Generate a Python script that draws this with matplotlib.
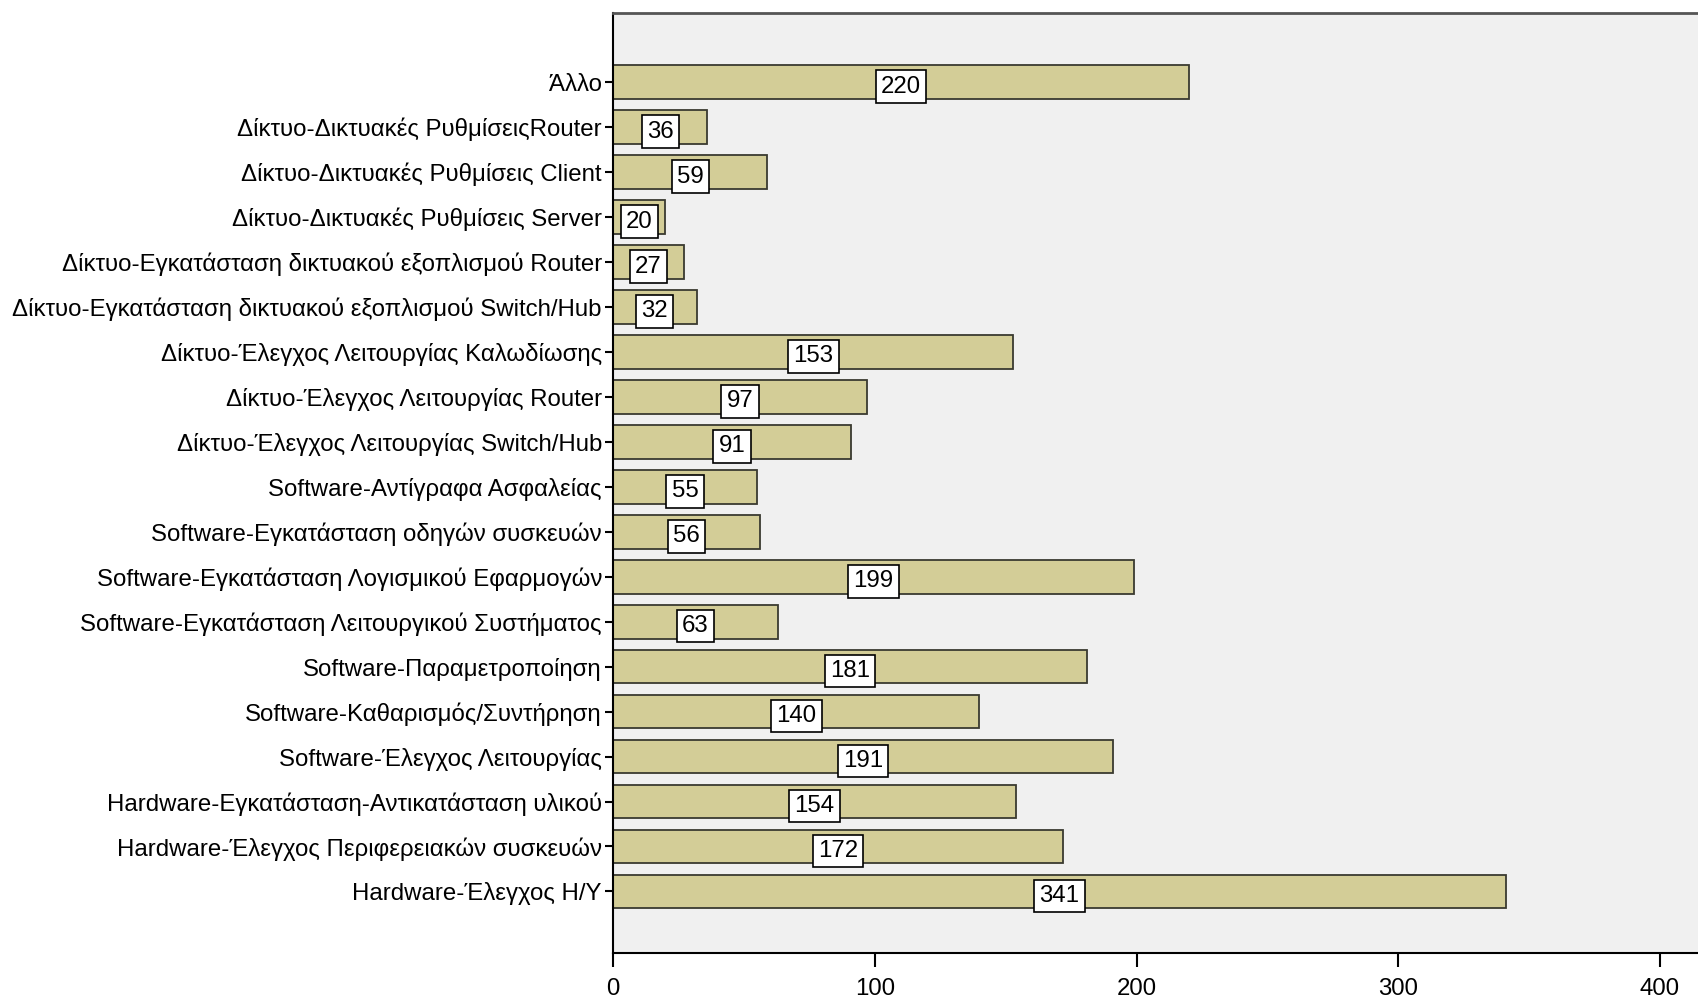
import matplotlib
matplotlib.use("Agg")
import matplotlib.pyplot as plt
import numpy as np

plt.rcParams['font.family'] = ['Liberation Sans', 'DejaVu Sans']

# --- δεδομένα (από πάνω προς τα κάτω) ---
κατηγορίες = [
    "Άλλο",
    "Δίκτυο-Δικτυακές ΡυθμίσειςRouter",
    "Δίκτυο-Δικτυακές Ρυθμίσεις Client",
    "Δίκτυο-Δικτυακές Ρυθμίσεις Server",
    "Δίκτυο-Εγκατάσταση δικτυακού εξοπλισμού Router",
    "Δίκτυο-Εγκατάσταση δικτυακού εξοπλισμού Switch/Hub",
    "Δίκτυο-Έλεγχος Λειτουργίας Καλωδίωσης",
    "Δίκτυο-Έλεγχος Λειτουργίας Router",
    "Δίκτυο-Έλεγχος Λειτουργίας Switch/Hub",
    "Software-Αντίγραφα Ασφαλείας",
    "Software-Εγκατάσταση οδηγών συσκευών",
    "Software-Εγκατάσταση Λογισμικού Εφαρμογών",
    "Software-Εγκατάσταση Λειτουργικού Συστήματος",
    "Software-Παραμετροποίηση",
    "Software-Καθαρισμός/Συντήρηση",
    "Software-Έλεγχος Λειτουργίας",
    "Hardware-Εγκατάσταση-Αντικατάσταση υλικού",
    "Hardware-Έλεγχος Περιφερειακών συσκευών",
    "Hardware-Έλεγχος Η/Υ",
]
τιμές = [220, 36, 59, 20, 27, 32, 153, 97, 91, 55, 56, 199, 63, 181, 140, 191, 154, 172, 341]
x_ticks = [0, 100, 200, 300, 400]

fig = plt.figure(figsize=(16.98, 9.98), dpi=100)
ax = fig.add_axes([613 / 1698, 1 - 953 / 998, (1698 - 613) / 1698 + 0.01, (953 - 13) / 998])
ax.set_facecolor('#F0F0F0')

y = np.arange(len(κατηγορίες))
ax.barh(y, τιμές, height=0.75, color='#D3CD97', edgecolor='#3a3a30', linewidth=1.3)

for yi, v in zip(y, τιμές):
    ax.text(v / 2, yi + 0.1, str(v), ha='center', va='center', fontsize=17.3,
            bbox=dict(boxstyle='square,pad=0.22', fc='white', ec='black', lw=1.2))

ax.set_yticks(y)
ax.set_yticklabels(κατηγορίες, fontsize=17.3)
ax.set_ylim(19.37, -1.54)
ax.set_xlim(0, 421)
ax.set_xticks(x_ticks)
ax.set_xticklabels([str(t) for t in x_ticks], fontsize=17.3)
ax.tick_params(axis='y', length=6, width=1.5, pad=2)
ax.tick_params(axis='x', length=10, width=1.5, pad=8)

ax.spines['left'].set_linewidth(1.5)
ax.spines['bottom'].set_linewidth(1.5)
ax.spines['top'].set_linewidth(2)
ax.spines['top'].set_color('#555555')
ax.spines['right'].set_visible(False)

fig.savefig('out.png', dpi=100)
